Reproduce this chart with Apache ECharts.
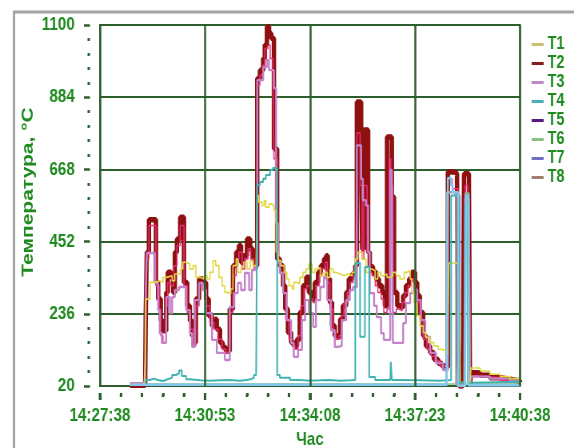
<!DOCTYPE html>
<html>
<head>
<meta charset="utf-8">
<script src="https://cdn.jsdelivr.net/npm/echarts@6/dist/echarts.min.js"></script>
<style>
html,body{margin:0;padding:0;background:#fff;overflow:hidden;}
#c{width:718px;height:448px;transform:scaleX(0.79944);transform-origin:0 0;}
</style>
</head>
<body>
<div id="c"></div>
<script>
// time axis: seconds after 14:27:38
const timeLabels = ['14:27:38', '14:30:53', '14:34:08', '14:37:23', '14:40:38'];
const timeStep = 195;
const minorPerStep = 5;
const yMin = 20, yMax = 1100, yStep = 216;
const yTitle = 'Температура, °C';
const xTitle = 'Час';

const T1 = [[56,24],[82,24],[84,100],[85,280],[93,330],[102,335],[111,330],[117,345],[124,350],[134,335],[139,355],[149,370],[154,390],[160,385],[167,370],[173,380],[178,345],[186,340],[193,350],[199,340],[204,360],[210,395],[215,380],[221,345],[227,320],[232,300],[238,295],[243,310],[247,380],[253,400],[256,360],[262,375],[267,390],[273,370],[279,395],[284,380],[290,390],[292,590],[295,570],[301,560],[305,575],[308,555],[314,565],[319,560],[323,545],[327,420],[331,395],[336,380],[342,360],[347,340],[351,320],[357,310],[360,330],[366,325],[371,345],[377,360],[383,370],[388,385],[394,360],[399,370],[405,375],[409,350],[416,360],[422,345],[427,370],[433,360],[438,355],[446,350],[453,355],[461,350],[468,360],[474,400],[479,420],[487,400],[494,360],[500,370],[505,365],[511,340],[516,360],[522,350],[527,355],[533,345],[539,350],[544,360],[550,350],[557,340],[565,360],[570,365],[576,340],[579,300],[583,270],[589,230],[594,200],[600,180],[605,165],[613,150],[620,140],[628,130],[635,125],[643,115],[646,208],[648,388],[667,385],[669,30],[687,30],[689,74],[706,65],[724,55],[743,48],[761,42],[780,38]];

const T2 = [[56,22],[84,22],[85,230],[87,420],[91,517],[104,330],[108,280],[113,215],[117,185],[123,300],[126,360],[132,345],[136,300],[139,420],[143,460],[149,525],[156,330],[162,260],[167,215],[171,170],[175,150],[178,280],[184,340],[191,330],[197,280],[202,230],[208,200],[214,220],[217,190],[223,150],[228,135],[234,125],[241,250],[247,380],[253,420],[258,440],[262,390],[267,410],[273,460],[279,430],[284,400],[288,380],[292,940],[297,965],[303,1000],[306,1040],[310,1095],[314,1075],[318,1060],[323,730],[329,400],[334,380],[340,320],[344,250],[349,180],[355,150],[360,140],[366,160],[371,240],[377,320],[383,345],[388,300],[394,280],[399,330],[405,360],[410,380],[416,400],[420,410],[423,340],[427,270],[431,200],[436,170],[442,165],[446,220],[451,260],[457,300],[462,340],[468,355],[474,380],[477,870],[485,660],[487,430],[490,786],[498,420],[501,377],[507,360],[513,340],[518,320],[524,300],[529,260],[533,765],[542,586],[546,300],[552,260],[557,255],[563,290],[568,320],[574,340],[579,360],[585,330],[589,290],[594,240],[600,170],[605,140],[613,120],[620,100],[628,88],[635,80],[643,75],[646,660],[659,655],[663,620],[665,200],[667,20],[674,20],[676,655],[685,640],[687,20],[689,60],[706,52],[724,45],[743,40],[761,35],[780,32]];

const T3 = [[56,28],[74,30],[84,28],[85,300],[87,418],[98,418],[102,328],[108,247],[111,178],[115,149],[123,286],[130,238],[134,286],[139,307],[147,316],[156,316],[160,247],[167,178],[171,137],[176,277],[184,328],[191,307],[197,238],[208,158],[217,119],[232,98],[241,256],[249,298],[256,328],[262,307],[269,358],[277,307],[282,367],[288,376],[292,935],[303,974],[310,995],[314,965],[323,911],[327,507],[331,388],[334,358],[340,298],[347,217],[355,149],[360,107],[368,128],[375,217],[381,277],[388,238],[396,197],[401,277],[409,316],[416,346],[422,277],[429,187],[436,137],[442,140],[449,217],[457,277],[464,307],[470,316],[477,740],[485,640],[488,576],[494,560],[498,420],[501,298],[509,260],[514,226],[522,178],[527,158],[539,666],[542,600],[544,149],[563,208],[568,268],[576,298],[583,307],[589,277],[596,217],[604,167],[613,119],[624,89],[637,68],[646,600],[660,590],[668,22],[678,580],[685,560],[687,25],[689,48],[724,42],[761,36],[780,35]];

const T4 = [[74,24],[85,38],[93,42],[100,38],[108,35],[117,40],[126,45],[134,53],[141,58],[147,66],[152,50],[160,40],[167,37],[186,36],[204,37],[223,38],[241,36],[260,38],[271,40],[280,45],[286,53],[290,60],[292,621],[297,630],[303,640],[308,651],[316,666],[321,672],[329,53],[334,45],[353,38],[371,36],[390,37],[409,38],[427,36],[446,37],[464,38],[474,388],[483,167],[492,376],[500,47],[511,38],[539,38],[540,92],[542,38],[557,37],[594,36],[631,38],[652,590],[661,586],[667,30],[678,560],[683,30],[689,33],[780,28]];

const T5 = [[74,22],[85,140],[87,400],[91,500],[104,320],[110,250],[113,170],[117,150],[123,260],[126,330],[132,320],[137,380],[143,440],[149,500],[156,320],[162,240],[167,190],[173,140],[178,260],[184,320],[191,310],[197,260],[204,210],[212,190],[219,160],[227,130],[234,120],[241,240],[247,350],[253,400],[258,420],[264,370],[269,400],[275,430],[280,400],[286,370],[292,920],[297,950],[303,980],[306,1030],[312,1040],[316,1000],[321,960],[323,700],[329,390],[334,360],[340,300],[345,220],[351,160],[357,140],[362,130],[368,170],[373,260],[379,310],[384,320],[390,280],[396,270],[401,320],[407,350],[412,370],[418,390],[422,330],[427,250],[433,180],[438,160],[444,170],[448,230],[453,270],[459,300],[464,330],[470,350],[475,370],[477,777],[483,620],[487,400],[490,620],[496,420],[500,360],[505,350],[511,320],[516,300],[522,280],[527,240],[533,250],[537,700],[540,620],[544,240],[550,250],[555,245],[561,270],[566,300],[572,320],[578,340],[583,310],[589,270],[594,220],[600,160],[607,130],[615,110],[622,95],[631,80],[643,70],[646,640],[654,610],[665,600],[667,22],[676,22],[678,620],[683,600],[685,22],[689,50],[706,45],[743,36],[780,28]];

const T6 = [[74,26],[780,26]];

const T7 = [[56,24],[644,24],[646,642],[652,620],[655,600],[665,20],[678,20],[680,590],[684,22],[780,22]];

const T8 = [[56,24],[643,24],[644,600],[654,600],[661,24],[676,24],[678,597],[685,597],[687,24],[780,22]];

const textGreen = '#1f8a1f';
const gridGreen = '#2d5f2d';
const font = "'Liberation Sans', Arial, sans-serif";

const defs = [
  {name: 'T1', data: T1, line: '#e0d840', legend: '#c8c070', width: 1.6, z: 6},
  {name: 'T2', data: T2, line: '#8e1010', legend: '#8b1a1a', width: 5.5, z: 2},
  {name: 'T3', data: T3, line: '#c482c8', legend: '#bb88c8', width: 2.4, z: 4},
  {name: 'T4', data: T4, line: '#3fb2b2', legend: '#48b0b0', width: 2, z: 7},
  {name: 'T5', data: T5, line: '#e8307a', legend: '#5a1a80', width: 1.5, z: 3},
  {name: 'T6', data: T6, line: '#88c488', legend: '#88c088', width: 1.5, z: 1},
  {name: 'T7', data: T7, line: '#84c8f0', legend: '#7070c0', width: 2.5, z: 8},
  {name: 'T8', data: T8, line: '#a0a0a0', legend: '#a08070', width: 2, z: 5}
];

// x-axis tick positions (major every timeStep, minor in between), built from the axis settings
const xTickVals = [];
for (let i = 0; i <= (780 / timeStep) * minorPerStep; i++) {
  xTickVals.push([i * timeStep / minorPerStep, yMin, i % minorPerStep === 0 ? 1 : 0]);
}

function whiteLine() {
  return {show: true, onZero: false, lineStyle: {color: '#ffffff', width: 1}};
}

const chart = echarts.init(document.getElementById('c'), null, {renderer: 'canvas'});
const series = defs.map(d => ({
  type: 'line', name: d.name, data: d.data, step: 'end',
  showSymbol: false, symbol: 'none', z: d.z,
  lineStyle: {color: d.line, width: d.width},
  itemStyle: {color: d.legend},
  emphasis: {disabled: true}
}));
series.push({
  type: 'custom', name: 'xticks', data: xTickVals, clip: false, silent: true, z: 20,
  encode: {x: 0, y: 1},
  renderItem: (params, api) => {
    const p = api.coord([api.value(0), api.value(1)]);
    const major = api.value(2) === 1;
    return {
      type: 'rect',
      shape: {x: p[0] - 1.5, y: p[1] + (major ? 7 : 8), width: 3, height: major ? 7 : 3},
      style: {fill: gridGreen}
    };
  }
});

chart.setOption({
  animation: false,
  backgroundColor: '#ffffff',
  graphic: [{
    type: 'rect', left: 15, top: 9.5, z: -10,
    shape: {width: 1000, height: 1000},
    style: {fill: null, stroke: '#a4a4a4', lineWidth: 3},
    silent: true
  }, {
    type: 'text', x: 35, y: 192, rotation: Math.PI / 2,
    style: {text: yTitle, fill: textGreen, font: 'bold 21px ' + font, align: 'center', verticalAlign: 'middle'},
    silent: true, z: 10
  }],
  grid: {
    left: 125, right: 67.5, top: 25, bottom: 62,
    outerBoundsMode: 'none', containLabel: false,
    show: true, borderColor: gridGreen, borderWidth: 2
  },
  legend: {
    orient: 'vertical', left: 660, top: 30,
    itemWidth: 15, itemHeight: 3, itemGap: 0, icon: 'rect',
    textStyle: {color: textGreen, fontSize: 18, fontWeight: 'bold', lineHeight: 19, fontFamily: font},
    data: defs.map(d => ({name: d.name, itemStyle: {color: d.legend}}))
  },
  xAxis: {
    type: 'value', min: 0, max: 780, interval: timeStep,
    offset: 7, z: 10,
    axisLine: whiteLine(),
    axisTick: {show: true, inside: false, length: 7, lineStyle: {color: gridGreen, width: 3}},
    minorTick: {show: true, splitNumber: minorPerStep, length: 3, lineStyle: {color: gridGreen, width: 3}},
    splitLine: {show: true, lineStyle: {color: gridGreen, width: 2.5}},
    axisLabel: {
      margin: 13, color: textGreen, fontSize: 19, fontWeight: 'bold', fontFamily: font,
      showMinLabel: true, showMaxLabel: true,
      formatter: v => timeLabels[Math.round(v / timeStep)] || ''
    },
    name: xTitle, nameLocation: 'middle', nameGap: 37,
    nameTextStyle: {color: textGreen, fontSize: 19, fontWeight: 'bold', fontFamily: font}
  },
  yAxis: {
    type: 'value', min: yMin, max: yMax, interval: yStep,
    offset: 12.5,
    axisLine: whiteLine(),
    axisTick: {show: true, inside: false, length: 7.5, lineStyle: {color: gridGreen, width: 2.5}},
    minorTick: {show: true, splitNumber: 5, length: 3, lineStyle: {color: gridGreen, width: 3}},
    splitLine: {show: true, lineStyle: {color: gridGreen, width: 2}},
    axisLabel: {margin: 19, color: textGreen, fontSize: 19, fontWeight: 'bold', fontFamily: font,
      formatter: v => String(v)}
  },
  series: series
});
</script>
</body>
</html>
